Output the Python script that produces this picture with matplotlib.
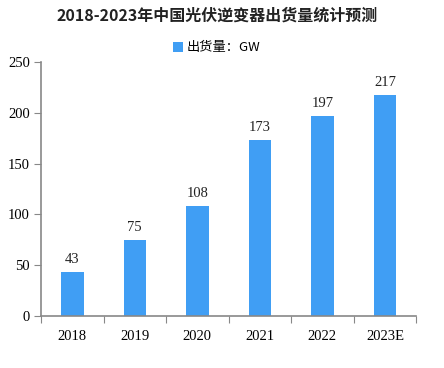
import numpy as np
import matplotlib
matplotlib.use('Agg')
import matplotlib.pyplot as plt

plt.rcParams['font.family'] = ['Noto Sans CJK SC', 'DejaVu Sans']

# shipments of PV inverters in China, GW
years = ['2018', '2019', '2020', '2021', '2022', '2023E']
shipments = [43, 75, 108, 173, 197, 217]
yticks = [0, 50, 100, 150, 200, 250]

bar_color = '#409EF4'
axis_color = '#888888'

fig = plt.figure(figsize=(4.44, 3.68), dpi=100)
ax = fig.add_axes([0.0923, 0.141, 0.845, 0.691])

x = np.arange(len(years))
bars = ax.bar(x, shipments, width=0.36, color=bar_color, label='出货量：GW')

for xi, v in zip(x, shipments):
    ax.text(xi, v + 6, str(v), ha='center', va='bottom', fontsize=10.5,
            family=['Liberation Serif', 'DejaVu Sans'], color='#222222')

ax.set_xlim(-0.5, len(years) - 0.5)
ax.set_ylim(0, 250)
ax.set_yticks(yticks)
ax.set_yticklabels([str(t) for t in yticks], family=['Liberation Serif'], fontsize=10.5)

# category ticks sit at the boundaries, labels centred on bars
ax.set_xticks(np.arange(len(years) + 1) - 0.5)
ax.set_xticklabels([])
ax.set_xticks(x, minor=True)
ax.set_xticklabels(years, minor=True, family=['Liberation Serif'], fontsize=10.5)
ax.tick_params(axis='x', which='minor', length=0, pad=10)
ax.tick_params(axis='x', which='major', length=5, color=axis_color, direction='out')
ax.tick_params(axis='y', length=5, color=axis_color, direction='out', pad=3)

for s in ['top', 'right']:
    ax.spines[s].set_visible(False)
for s in ['left', 'bottom']:
    ax.spines[s].set_color(axis_color)
    ax.spines[s].set_linewidth(1.2)

fig.text(0.488, 0.958, '2018-2023年中国光伏逆变器出货量统计预测', ha='center', va='center',
         fontsize=11.5, fontweight='bold', color='#222222')

leg = fig.legend(handles=[bars], labels=['出货量：GW'], loc='center', bbox_to_anchor=(0.488, 0.87),
                 frameon=False, fontsize=9.5, handlelength=0.8, handleheight=0.8,
                 handletextpad=0.3)

fig.savefig('out.png', dpi=100)
